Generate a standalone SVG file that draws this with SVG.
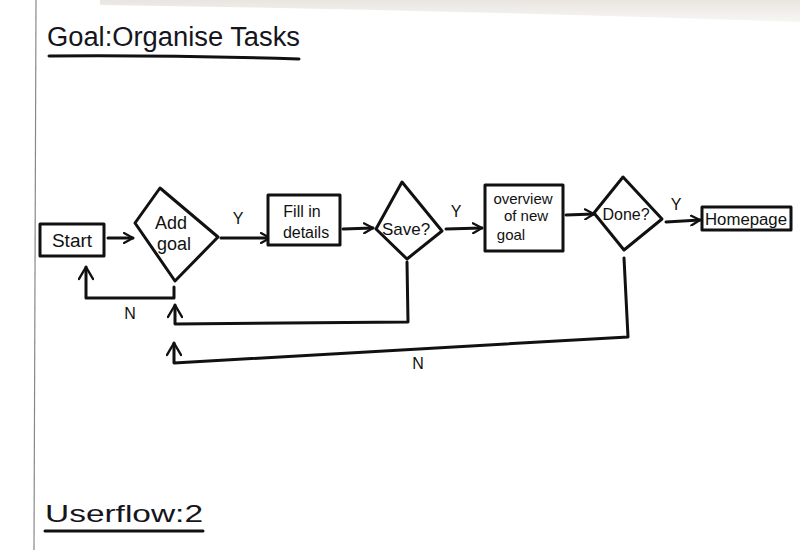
<svg xmlns="http://www.w3.org/2000/svg" width="800" height="550" viewBox="0 0 800 550">
  <defs>
    <marker id="arr" viewBox="0 0 12 12" refX="10" refY="6" markerWidth="12" markerHeight="12" markerUnits="userSpaceOnUse" orient="auto">
      <path d="M1,1 L10,6 L1,11" fill="none" stroke="#111" stroke-width="2.2" stroke-linecap="round" stroke-linejoin="round"/>
    </marker>
    <marker id="arrBig" viewBox="0 0 16 16" refX="14" refY="8" markerWidth="16" markerHeight="16" markerUnits="userSpaceOnUse" orient="auto">
      <path d="M2,1 L14,8 L2,15" fill="none" stroke="#111" stroke-width="2.4" stroke-linecap="round" stroke-linejoin="round"/>
    </marker>
    <linearGradient id="bg" x1="0" y1="0" x2="0" y2="1">
      <stop offset="0" stop-color="#e9e6e1"/>
      <stop offset="1" stop-color="#f7f6f4"/>
    </linearGradient>
  </defs>
  <style>
    .shape { fill: #fff; stroke: #111; stroke-width: 3; stroke-linejoin: round; }
    .line { fill: none; stroke: #111; stroke-width: 3; stroke-linecap: round; stroke-linejoin: round; }
    .lbl { font-family: "Liberation Sans", "DejaVu Sans", sans-serif; fill: #111; text-anchor: middle; }
    .yn { font-family: "Liberation Sans", "DejaVu Sans", sans-serif; fill: #111; font-size: 16px; text-anchor: middle; }
    .title { font-family: "Liberation Sans", "DejaVu Sans", sans-serif; fill: #151520; }
  </style>
  <rect width="800" height="550" fill="#fff"/>
  <path d="M100,0 L800,0 L800,22 Q450,10 100,5 Z" fill="url(#bg)"/>
  <line x1="36" y1="0" x2="34" y2="550" stroke="#888" stroke-width="1.2"/>

  <g id="title">
    <text class="title" x="47" y="46" font-size="27" textLength="253" lengthAdjust="spacingAndGlyphs">Goal:Organise Tasks</text>
    <path class="line" d="M49,56 Q170,55 299,59" stroke-width="2.5"/>
  </g>

  <g id="connectors">
    <line class="line" x1="108" y1="238" x2="133" y2="238" marker-end="url(#arr)"/>
    <line class="line" x1="221" y1="238" x2="270" y2="238" marker-end="url(#arr)"/>
    <line class="line" x1="343" y1="229" x2="373" y2="228" marker-end="url(#arr)"/>
    <line class="line" x1="446" y1="229" x2="482" y2="228" marker-end="url(#arr)"/>
    <line class="line" x1="566" y1="215" x2="594" y2="214" marker-end="url(#arr)"/>
    <line class="line" x1="666" y1="222" x2="700" y2="220" marker-end="url(#arr)"/>
    <path class="line" d="M174,287 L174,298 L86,298 L86,267" marker-end="url(#arrBig)"/>
    <path class="line" d="M407,262 L408,322 L175,324 L175,305" marker-end="url(#arrBig)"/>
    <path class="line" d="M624,258 L628,337 Q400,350 174,363 L174,343" marker-end="url(#arrBig)"/>
    <text class="yn" x="238" y="224">Y</text>
    <text class="yn" x="456" y="217">Y</text>
    <text class="yn" x="676" y="210">Y</text>
    <text class="yn" x="130" y="319">N</text>
    <text class="yn" x="418" y="369">N</text>
  </g>

  <g id="start">
    <rect class="shape" x="40" y="224" width="64" height="32"/>
    <text class="lbl" x="72" y="247" font-size="19">Start</text>
  </g>

  <g id="add-goal">
    <polygon class="shape" points="160,188 218,237 175,281 135,223"/>
    <text class="lbl" x="171" y="229" font-size="18">Add</text>
    <text class="lbl" x="174" y="250" font-size="18">goal</text>
  </g>

  <g id="fill-details">
    <rect class="shape" x="268" y="195" width="72" height="50"/>
    <text class="lbl" x="302" y="217" font-size="16">Fill in</text>
    <text class="lbl" x="306" y="238" font-size="16">details</text>
  </g>

  <g id="save">
    <polygon class="shape" points="402,182 442,231 407,259 376,229"/>
    <text class="lbl" x="406" y="235" font-size="17">Save?</text>
  </g>

  <g id="overview">
    <rect class="shape" x="485" y="185" width="78" height="66"/>
    <text class="lbl" x="523" y="204" font-size="15">overview</text>
    <text class="lbl" x="526" y="221" font-size="15">of new</text>
    <text class="lbl" x="511" y="240" font-size="15">goal</text>
  </g>

  <g id="done">
    <polygon class="shape" points="623,177 662,219 624,250 594,213"/>
    <text class="lbl" x="626" y="220" font-size="16">Done?</text>
  </g>

  <g id="homepage">
    <rect class="shape" x="702" y="207" width="89" height="23"/>
    <text class="lbl" x="746" y="225" font-size="16" textLength="82" lengthAdjust="spacingAndGlyphs">Homepage</text>
  </g>

  <g id="footer">
    <text class="title" x="45" y="522" textLength="158" lengthAdjust="spacingAndGlyphs" font-size="24">Userflow:2</text>
    <path class="line" d="M45,531 L203,531" stroke-width="2.5"/>
  </g>
</svg>
